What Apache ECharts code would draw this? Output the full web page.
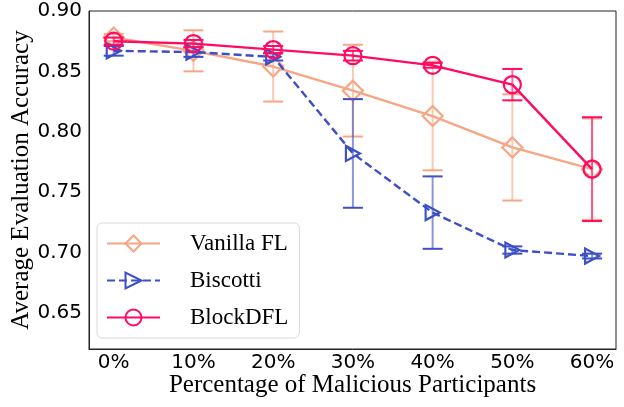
<!DOCTYPE html>
<html>
<head>
<meta charset="utf-8">
<script src="https://cdn.jsdelivr.net/npm/echarts@6/dist/echarts.min.js"></script>
<style>html,body{margin:0;padding:0;background:#fff}#c{width:624px;height:407px}</style>
</head>
<body>
<div id="c"></div>
<script>
const categories = ['0%', '10%', '20%', '30%', '40%', '50%', '60%'];
const yTicks = [0.65, 0.70, 0.75, 0.80, 0.85, 0.90];
const vanillaMean = [0.878, 0.867, 0.854, 0.834, 0.813, 0.787, 0.769];
const vanillaErr  = [0.003, 0.017, 0.029, 0.038, 0.045, 0.044, 0.042];
const biscottiMean = [0.867, 0.866, 0.862, 0.782, 0.733, 0.702, 0.697];
const biscottiErr  = [0.004, 0.004, 0.003, 0.045, 0.030, 0.003, 0.002];
const blockMean = [0.875, 0.873, 0.868, 0.863, 0.855, 0.839, 0.769];
const blockErr  = [0.003, 0.003, 0.003, 0.004, 0.002, 0.013, 0.043];

const C_VAN = '#F6A683';
const C_BIS = '#3D4FC6';
const C_BLK = '#FF0A64';

function pts(mean){ return mean.map((v,i)=>[i,v]); }
function errData(mean, err){ return mean.map((v,i)=>[i, v-err[i], v+err[i]]); }

function errSeries(name, mean, err, color, z){
  return {
    type:'custom', name: name + ' err', z: z,
    data: errData(mean, err),
    encode:{x:0, y:[1,2]},
    silent:true,
    renderItem: function(params, api){
      const x = api.value(0);
      const lo = api.coord([x, api.value(1)]);
      const hi = api.coord([x, api.value(2)]);
      const w = 10;
      return {type:'group', children:[
        {type:'line', shape:{x1:lo[0], y1:lo[1], x2:hi[0], y2:hi[1]}, style:{stroke:color, lineWidth:2, opacity:0.6}},
        {type:'line', shape:{x1:lo[0]-w, y1:lo[1], x2:lo[0]+w, y2:lo[1]}, style:{stroke:color, lineWidth:2}},
        {type:'line', shape:{x1:hi[0]-w, y1:hi[1], x2:hi[0]+w, y2:hi[1]}, style:{stroke:color, lineWidth:2}}
      ]};
    }
  };
}

function lineSeries(name, mean, color, symbol, size, rotate, dashed, z){
  return {
    type:'line', name:name, z:z,
    data: pts(mean),
    symbol: symbol, symbolSize: size, symbolRotate: rotate,
    showAllSymbol:true,
    lineStyle:{color:color, width:2.4, type: dashed ? [8,4] : 'solid'},
    itemStyle:{color:'rgba(255,255,255,0)', borderColor:color, borderWidth:2.2},
    emphasis:{disabled:true},
    animation:false
  };
}

const chart = echarts.init(document.getElementById('c'), null, {renderer:'canvas'});
chart.setOption({
  animation:false,
  grid:{left:89, right:8, top:11, bottom:58, containLabel:false, outerBoundsMode:'none', show:true, borderColor:'#222', borderWidth:1, backgroundColor:'transparent'},
  xAxis:{
    type:'value', min:-0.31, max:6.3,
    name:'Percentage of Malicious Participants', nameLocation:'middle', nameGap:24, nameMoveOverlap:false,
    nameTextStyle:{fontFamily:'Liberation Serif', fontSize:25, color:'#000'},
    axisLine:{show:true, onZero:false, lineStyle:{color:'#222', width:1}},
    axisTick:{show:false},
    splitLine:{show:false},
    axisLabel:{customValues:[0,1,2,3,4,5,6], formatter:v=>categories[Math.round(v)], fontFamily:'DejaVu Sans', fontSize:20, color:'#000', margin:4}
  },
  yAxis:{
    type:'value', min:0.62, max:0.90,
    name:'Average Evaluation Accuracy', nameLocation:'middle', nameGap:55, nameMoveOverlap:false,
    nameTextStyle:{fontFamily:'Liberation Serif', fontSize:25, color:'#000'},
    axisLine:{show:true, onZero:false, lineStyle:{color:'#222', width:1}},
    axisTick:{show:false},
    splitLine:{show:false},
    axisLabel:{customValues:yTicks, formatter:v=>v.toFixed(2), fontFamily:'DejaVu Sans', fontSize:20, color:'#000', margin:7}
  },
  legend:{
    orient:'vertical', left:97, top:223,
    data:['Vanilla FL','Biscotti','BlockDFL'],
    itemWidth:53, itemHeight:20, itemGap:14,
    padding:[9,11,9,9],
    borderColor:'#d8d8d8', borderWidth:1, borderRadius:5,
    backgroundColor:'rgba(255,255,255,0.8)',
    textStyle:{fontFamily:'Liberation Serif', fontSize:23, color:'#000', padding:[0,0,0,25]}
  },
  series:[
    errSeries('Vanilla FL', vanillaMean, vanillaErr, C_VAN, 1),
    lineSeries('Vanilla FL', vanillaMean, C_VAN, 'diamond', 20, 0, false, 2),
    errSeries('Biscotti', biscottiMean, biscottiErr, C_BIS, 3),
    lineSeries('Biscotti', biscottiMean, C_BIS, 'triangle', [15,14], -90, true, 4),
    errSeries('BlockDFL', blockMean, blockErr, C_BLK, 5),
    lineSeries('BlockDFL', blockMean, C_BLK, 'circle', 17, 0, false, 6)
  ]
});
</script>
</body>
</html>
